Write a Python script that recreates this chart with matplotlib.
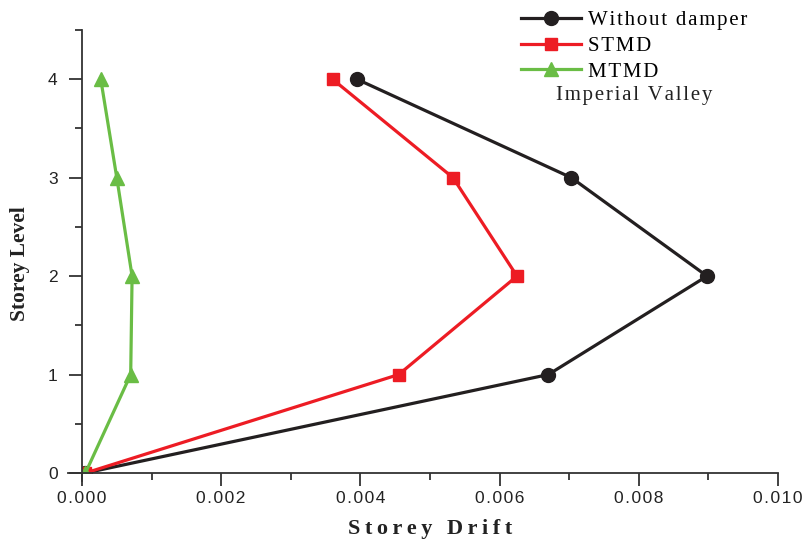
import matplotlib.pyplot as plt
from matplotlib.ticker import MultipleLocator, FuncFormatter
from matplotlib.lines import Line2D

# storey levels and drift values
levels = [0, 1, 2, 3, 4]
drift_without = [0.00005, 0.00670, 0.00898, 0.00703, 0.00395]
drift_stmd = [0.00005, 0.00455, 0.00625, 0.00533, 0.00360]
drift_mtmd = [0.00005, 0.00070, 0.00072, 0.00050, 0.00027]

black = "#231f20"
red = "#ed1c24"
green = "#6abd45"

# spaced-out lettering like the original figure
def spaced(s, sep="\u200a"):
    return sep.join(s)

serif = ["Liberation Serif", "DejaVu Serif"]
sans = ["Liberation Sans", "DejaVu Sans"]

fig = plt.figure(figsize=(8.06, 5.45), dpi=100)
ax = fig.add_axes([0.1017, 0.1321, 0.8636, 0.8129])

ax.plot(drift_without, levels, "-o", color=black, lw=2.3, ms=10, label="Without damper")
ax.plot(drift_stmd, levels, "-s", color=red, lw=2.3, ms=8, label="STMD")
ax.plot(drift_mtmd, levels, "-^", color=green, lw=2.3, ms=10, label="MTMD")

ax.set_xlim(0, 0.010)
ax.set_ylim(0, 4.5)
ax.xaxis.set_major_locator(MultipleLocator(0.002))
ax.xaxis.set_minor_locator(MultipleLocator(0.001))
ax.xaxis.set_major_formatter(FuncFormatter(lambda v, p: spaced("%.3f" % v)))
ax.yaxis.set_major_locator(MultipleLocator(1))
ax.yaxis.set_minor_locator(MultipleLocator(0.5))

for side in ["top", "right"]:
    ax.spines[side].set_visible(False)
for side in ["left", "bottom"]:
    ax.spines[side].set_linewidth(1.3)
    ax.spines[side].set_color("#333333")
ax.spines["bottom"].set_bounds(-0.0002, 0.010)
ax.spines["left"].set_bounds(-0.08, 4.5)

ax.tick_params(which="major", direction="out", length=9.5, width=1.3, colors="#333333",
               labelsize=12.5, labelcolor="#222222")
ax.tick_params(which="minor", direction="out", length=5, width=1.3, colors="#333333")
ax.tick_params(axis="x", which="major", pad=3.5)
ax.tick_params(axis="y", which="major", pad=8)
for lab in ax.get_xticklabels() + ax.get_yticklabels():
    lab.set_family(sans)

ax.set_xlabel(spaced("Storey Drift", "\u2009"), family=serif, fontweight="bold",
              fontsize=16, color="#222222")
ax.xaxis.set_label_coords(0.5, -0.104)
ax.set_ylabel("Storey Level", family=serif, fontweight="bold", fontsize=15.5,
              color="#222222")
ax.yaxis.set_label_coords(-0.075, 0.472)

handles = [
    Line2D([], [], color=black, lw=2.3, marker="o", ms=10),
    Line2D([], [], color=red, lw=2.3, marker="s", ms=8.5),
    Line2D([], [], color=green, lw=2.3, marker="^", ms=10.5),
]
labels = [spaced("Without damper"), spaced("STMD"), spaced("MTMD")]
leg = fig.legend(handles, labels, loc="upper left", bbox_to_anchor=(0.633, 1.0),
                 frameon=False, handlelength=2.9, handletextpad=0.35, borderpad=0.0,
                 labelspacing=0.3, prop={"family": serif, "size": 15})

fig.text(556 / 806, 1 - 95 / 545, spaced("Imperial Valley"), family=serif, fontsize=15,
         color="#222222", ha="left", va="center")

fig.savefig("out.png", dpi=100)
